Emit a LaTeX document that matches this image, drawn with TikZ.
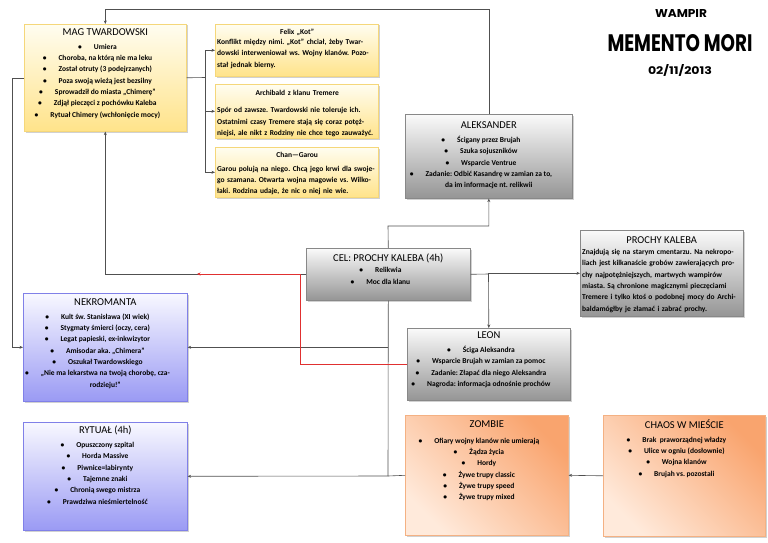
\documentclass[tikz,border=0pt]{standalone}
\usepackage{fontspec}
\usepackage{graphicx}
\setmainfont{Carlito}
\newfontfamily\hdr{Poppins}
\usetikzlibrary{arrows.meta,shadows}
\definecolor{yT}{HTML}{FFFDF0}
\definecolor{yBot}{HTML}{FFE38A}
\definecolor{yB}{HTML}{F5D77A}
\definecolor{gT}{HTML}{FAFAFA}
\definecolor{gBot}{HTML}{959595}
\definecolor{gB}{HTML}{888888}
\definecolor{pT}{HTML}{F8F8FF}
\definecolor{pBot}{HTML}{9A9AF4}
\definecolor{pB}{HTML}{8080E8}
\definecolor{oDark}{HTML}{F9A46E}
\definecolor{oLight}{HTML}{FFEADB}
\definecolor{oB}{HTML}{F4B183}
\definecolor{lineC}{HTML}{505050}
\definecolor{redC}{HTML}{E03030}
\frenchspacing
\newcommand\bodyf{\fontsize{7.5}{11.3}\selectfont\bfseries\frenchspacing}
\newcommand\ttl[1]{{\fontsize{10.5}{12}\selectfont\mdseries\rule{0pt}{9pt}#1}}
\newcommand\bl[1]{\llap{\textbullet\hspace{12pt}}#1}
\newcommand\ptl[1]{\makebox[160pt]{\rule{0pt}{6pt}#1}}
\begin{document}
\begin{tikzpicture}[x=1pt,y=-1pt,
  every node/.style={inner sep=0pt},
  con/.style={draw=lineC, line width=0.6pt},
  arr/.style={con, -{Stealth[length=3.5pt,width=3pt]}},
  redarr/.style={draw=redC, line width=0.6pt, -{Stealth[length=3.5pt,width=3pt]}},
  box/.style={rectangle, anchor=north west, line width=0.6pt, drop shadow={shadow xshift=1.2pt, shadow yshift=-1.2pt, opacity=0.3, fill=black!60}},
  ybox/.style={box, draw=yB, top color=yT, bottom color=yBot},
  gbox/.style={box, draw=gB, top color=gT, bottom color=gBot},
  pbox/.style={box, draw=pB, top color=pT, bottom color=pBot},
  obox/.style={box, draw=oB, top color=oDark, bottom color=oLight, shading angle=-45},
  lst/.style={anchor=north, align=center, font=\bodyf},
  ptxt/.style={anchor=north west, align=left, text width=160pt, font=\bodyf},
  hd/.style={anchor=center}
]
\useasboundingbox (0,0) rectangle (768,543);

% boxes
\node[ybox, minimum width=162pt, minimum height=107pt] (mag) at (24,24) {};
\node[ybox, minimum width=163pt, minimum height=52pt] (felix) at (215,24) {};
\node[ybox, minimum width=163pt, minimum height=54pt] (arch) at (215,84) {};
\node[ybox, minimum width=163pt, minimum height=50pt] (chan) at (215,147) {};
\node[gbox, minimum width=167pt, minimum height=84pt] (alek) at (405,114) {};
\node[gbox, minimum width=164pt, minimum height=52pt] (cel) at (306,248) {};
\node[gbox, minimum width=163pt, minimum height=86pt] (prochy) at (580,230) {};
\node[pbox, minimum width=164pt, minimum height=108pt] (nekro) at (23,293) {};
\node[gbox, minimum width=163pt, minimum height=72pt] (leon) at (407,328) {};
\node[pbox, minimum width=164pt, minimum height=108pt] (rytual) at (23,422) {};
\node[obox, minimum width=163pt, minimum height=120pt] (zombie) at (405,415) {};
\node[obox, minimum width=162pt, minimum height=121pt] (chaos) at (603,415) {};

% connectors
\draw[arr] (alek.north) -- ++(0,-105) -| (mag.north);
\coordinate (j1) at (205,77.5);
\draw[con] (mag.east) -- (j1);
\draw[arr] (j1) |- (felix.west);
\draw[arr] (j1) |- (arch.west);
\draw[arr] (j1) |- (chan.west);
\draw[arr] (mag.west) -- ++(-12,0) |- (nekro.west);
\draw[arr] (cel.west) -| (mag.south);
\coordinate (c1) at (388,226);
\draw[arr] (cel.north) -- (c1) -| (alek.south);
\coordinate (c2) at (488.5,274);
\draw[con] (cel.east) -- (c2);
\draw[arr] (c2) |- (prochy.west);
\draw[arr] (c2) -- (leon.north);
\coordinate (c3) at (388,476);
\draw[con] (cel.south) -- (c3);
\draw[arr] (cel.south |- nekro.east) -- (nekro.east);
\draw[arr] (c3) -- (rytual.east);
\draw[con] (c3) -- (zombie.west);
\draw[arr] (chaos.west) -- (zombie.east);
\coordinate (r1) at (300,274);
\coordinate (r2) at (197,274);
\draw[redarr] (leon.west) -| (r1) -- (r2);

% texts
\node[lst] (magT) at ([yshift=-2.4pt]mag.north) {\ttl{MAG TWARDOWSKI}\\[2.4pt]
\bl{Umiera}\\ \bl{Choroba, na którą nie ma leku}\\ \bl{Został otruty (3 podejrzanych)}\\
\bl{Poza swoją wieżą jest bezsilny}\\ \bl{Sprowadził do miasta „Chimerę”}\\
\bl{Zdjął pieczęci z pochówku Kaleba}\\ \bl{Rytuał Chimery (wchłonięcie mocy)}};

\node[ptxt] (felixT) at ([xshift=2pt,yshift=-4.2pt]felix.north west) {\ptl{Felix „Kot”}\\[-1pt]
Konflikt między nimi. „Kot” chciał, żeby Twar-\\ dowski interweniował ws. Wojny klanów. Pozo-\\ stał jednak bierny.};

\node[ptxt] (archT) at ([xshift=2pt,yshift=-5.7pt]arch.north west) {\ptl{Archibald z klanu Tremere}\\[5.7pt]
Spór od zawsze. Twardowski nie toleruje ich.\\ Ostatnimi czasy Tremere stają się coraz potęż-\\ niejsi, ale nikt z Rodziny nie chce tego zauważyć.};

\node[ptxt] (chanT) at ([xshift=2pt,yshift=-4.5pt]chan.north west) {\ptl{Chan—Garou}\\[2pt]
Garou polują na niego. Chcą jego krwi dla swoje-\\ go szamana. Otwarta wojna magowie vs. Wilko-\\ łaki. Rodzina udaje, że nic o niej nie wie.};

\node[lst] (alekT) at ([yshift=-5.4pt]alek.north) {\ttl{ALEKSANDER}\\[2.7pt]
\bl{Ścigany przez Brujah}\\ \bl{Szuka sojuszników}\\ \bl{Wsparcie Ventrue}\\
\bl{Zadanie: Odbić Kasandrę w zamian za to,}\\ da im informacje nt. relikwii};

\node[lst] (celT) at ([yshift=-4.4pt]cel.north) {\ttl{CEL: PROCHY KALEBA (4h)}\\
\bl{Relikwia}\\ \bl{Moc dla klanu}};

\node[ptxt, text width=159pt] (prochyT) at ([xshift=2pt,yshift=-4.4pt]prochy.north west) {\makebox[159pt]{\ttl{PROCHY KALEBA}}\\[-0.3pt]
Znajdują się na starym cmentarzu. Na nekropo-\\ liach jest kilkanaście grobów zawierających pro-\\
chy najpotężniejszych, martwych wampirów\\ miasta. Są chronione magicznymi pieczęciami\\
Tremere i tylko ktoś o podobnej mocy do Archi-\\ baldamógłby je złamać i zabrać prochy.};

\node[lst] (nekroT) at ([yshift=-3.4pt]nekro.north) {\ttl{NEKROMANTA}\\[2.4pt]
\bl{Kult św. Stanisława (XI wiek)}\\ \bl{Stygmaty śmierci (oczy, cera)}\\
\bl{Legat papieski, ex-inkwizytor}\\ \bl{Amisodar aka. „Chimera”}\\
\bl{Oszukał Twardowskiego}\\ \bl{„Nie ma lekarstwa na twoją chorobę, cza-}\\ rodzieju!”};

\node[lst] (leonT) at ([yshift=-1.4pt]leon.north) {\ttl{LEON}\\[2.7pt]
\bl{Ściga Aleksandra}\\ \bl{Wsparcie Brujah w zamian za pomoc}\\
\bl{Zadanie: Złapać dla niego Aleksandra}\\ \bl{Nagroda: informacja odnośnie prochów}};

\node[lst] (rytualT) at ([yshift=-2.4pt]rytual.north) {\ttl{RYTUAŁ (4h)}\\[2.7pt]
\bl{Opuszczony szpital}\\ \bl{Horda Massive}\\ \bl{Piwnice=labirynty}\\
\bl{Tajemne znaki}\\ \bl{Chronią swego mistrza}\\ \bl{Prawdziwa nieśmiertelność}};

\node[lst] (zombieT) at ([yshift=-3.4pt]zombie.north) {\ttl{ZOMBIE}\\[4.4pt]
\bl{Ofiary wojny klanów nie umierają}\\ \bl{Żądza życia}\\ \bl{Hordy}\\
\bl{Żywe trupy classic}\\ \bl{Żywe trupy speed}\\ \bl{Żywe trupy mixed}};

\node[lst] (chaosT) at ([yshift=-4.4pt]chaos.north) {\ttl{CHAOS W MIEŚCIE}\\[2.4pt]
\bl{Brak \ praworządnej władzy}\\ \bl{Ulice w ogniu (dosłownie)}\\
\bl{Wojna klanów}\\ \bl{Brujah vs. pozostali}};

% header
\node[hd] (wampir) at (681,14) {\resizebox{52pt}{8pt}{\hdr\bfseries WAMPIR}};
\node[hd] (memento) at (680,43) {\resizebox{145pt}{17pt}{\hdr\bfseries MEMENTO MORI}};
\node[hd] (date) at (680,70) {\resizebox{64pt}{10pt}{\hdr\bfseries 02/11/2013}};
\end{tikzpicture}
\end{document}
